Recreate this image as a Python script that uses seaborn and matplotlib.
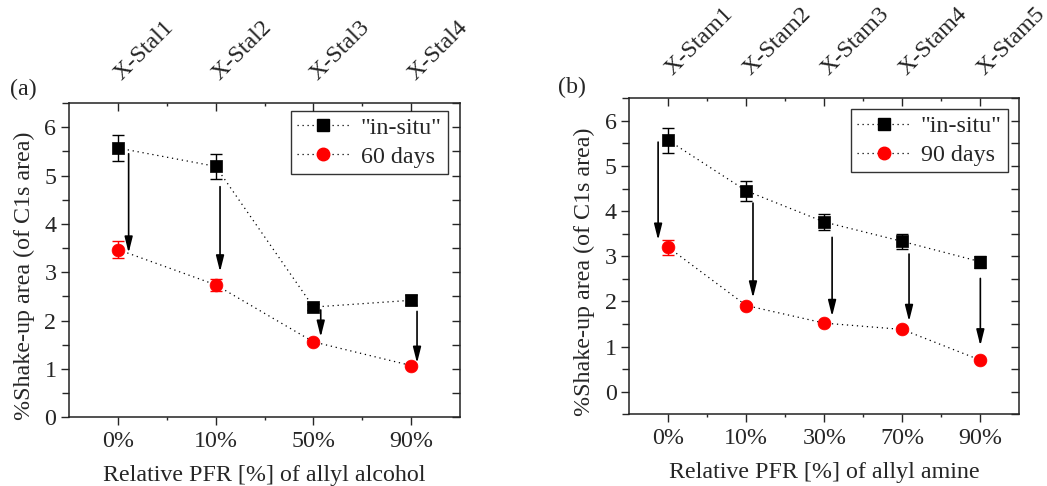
import numpy as np
import pandas as pd
import matplotlib
matplotlib.use("Agg")
import matplotlib.pyplot as plt
from matplotlib.lines import Line2D
from matplotlib.ticker import MultipleLocator, FixedLocator
import seaborn as sns

# ---------------- data ----------------
a_cats = ["0%", "10%", "50%", "90%"]
a_top = ["X-Stal1", "X-Stal2", "X-Stal3", "X-Stal4"]
a_insitu = [5.57, 5.19, 2.28, 2.42]
a_insitu_err = [0.27, 0.26, 0.07, 0.10]
a_aged = [3.47, 2.74, 1.56, 1.07]
a_aged_err = [0.17, 0.13, 0.04, 0.04]
a_arrow_dx = [0.11, 0.045, 0.075, 0.06]
a_arrow_start = [5.45, 4.77, 2.22, 2.19]
a_arrow_end = [3.40, 3.01, 1.66, 1.12]

b_cats = ["0%", "10%", "30%", "70%", "90%"]
b_top = ["X-Stam1", "X-Stam2", "X-Stam3", "X-Stam4", "X-Stam5"]
b_insitu = [5.57, 4.45, 3.76, 3.33, 2.88]
b_insitu_err = [0.28, 0.22, 0.18, 0.16, 0.13]
b_aged = [3.20, 1.91, 1.52, 1.38, 0.70]
b_aged_err = [0.17, 0.04, 0.03, 0.03, 0.03]
b_arrow_dx = [-0.13, 0.086, 0.10, 0.086, 0.0]
b_arrow_start = [5.53, 4.18, 3.42, 3.05, 2.51]
b_arrow_end = [3.36, 2.08, 1.67, 1.56, 1.02]

# ---------------- style ----------------
sns.set_style("ticks")
plt.rcParams["font.family"] = ["Liberation Serif", "DejaVu Serif"]
FS = 17.3

fig = plt.figure(figsize=(10.47, 4.86), dpi=100)
ax_a = fig.add_axes([0.0659, 0.1414, 0.3735, 0.6466])
ax_b = fig.add_axes([0.6010, 0.1475, 0.3726, 0.6502])


def panel(ax, cats, tops, ins, ins_err, aged, aged_err, adx, ast, aen,
          ylim, aged_label, xlabel, letter, leg_bbox, ylab_y):
    n = len(cats)
    pos = np.arange(n)
    df = pd.DataFrame({
        "pos": np.concatenate([pos, pos]),
        "val": np.concatenate([ins, aged]),
        "series": ['"in-situ"'] * n + [aged_label] * n,
    })
    # dotted connecting lines
    sns.lineplot(data=df, x="pos", y="val", units="series", estimator=None,
                 color="black", lw=0.9, linestyle=(0, (1, 3)), ax=ax,
                 legend=False, zorder=2)
    # error bars
    ax.errorbar(pos, ins, yerr=ins_err, fmt="none", ecolor="black",
                elinewidth=1.0, capsize=4, capthick=1.0, zorder=3)
    ax.errorbar(pos, aged, yerr=aged_err, fmt="none", ecolor="red",
                elinewidth=1.0, capsize=4, capthick=1.0, zorder=3)
    # markers
    sns.scatterplot(x=pos, y=ins, marker="s", s=70, color="black",
                    edgecolor="black", linewidth=0.5, ax=ax, zorder=4)
    sns.scatterplot(x=pos, y=aged, marker="o", s=85, color="red",
                    edgecolor="red", linewidth=0.5, ax=ax, zorder=4)
    # arrows
    for i in range(n):
        ax.annotate("", xy=(pos[i] + adx[i], aen[i]),
                    xytext=(pos[i] + adx[i], ast[i]),
                    arrowprops=dict(arrowstyle="-|>,head_length=0.8,head_width=0.2",
                                    color="black", lw=1.2, mutation_scale=12,
                                    shrinkA=0, shrinkB=0), zorder=5)

    ax.set_xlim(-0.5, n - 0.5)
    ax.set_ylim(*ylim)
    ax.xaxis.set_major_locator(FixedLocator(pos))
    ax.set_xticklabels(cats, fontsize=FS)
    ax.xaxis.set_minor_locator(FixedLocator(pos[:-1] + 0.5))
    ax.yaxis.set_major_locator(MultipleLocator(1))
    ax.yaxis.set_minor_locator(MultipleLocator(0.5))
    ax.tick_params(axis="y", which="major", direction="out", length=6,
                   width=1, labelsize=FS, pad=3)
    ax.tick_params(axis="y", which="minor", direction="out", length=5, width=1)
    ax.tick_params(axis="x", which="major", direction="out", length=6,
                   width=1, labelsize=FS, pad=4)
    ax.tick_params(axis="x", which="minor", direction="out", length=2, width=1)
    for sp in ax.spines.values():
        sp.set_visible(True)
        sp.set_linewidth(1.1)
        sp.set_color("#222222")
    ax.set_xlabel(xlabel, fontsize=FS, labelpad=9)
    ax.set_ylabel("%Shake-up area (of C1s area)", fontsize=FS)
    ax.yaxis.set_label_coords(-0.088, ylab_y)

    # top axis
    axt = ax.twiny()
    axt.set_xlim(ax.get_xlim())
    axt.xaxis.set_major_locator(FixedLocator(pos))
    axt.set_xticklabels(tops, fontsize=FS, rotation=45, ha="left",
                        va="center", rotation_mode="anchor")
    axt.xaxis.set_minor_locator(FixedLocator(pos[:-1] + 0.5))
    axt.tick_params(axis="x", which="major", direction="in", length=6,
                    width=1, pad=19)
    axt.tick_params(axis="x", which="minor", direction="in", length=2, width=1)
    for sp in axt.spines.values():
        sp.set_visible(False)

    # right axis ticks
    axr = ax.twinx()
    axr.set_ylim(ax.get_ylim())
    axr.yaxis.set_major_locator(MultipleLocator(1))
    axr.yaxis.set_minor_locator(MultipleLocator(0.5))
    axr.tick_params(axis="y", which="both", direction="in", length=6,
                    width=1, labelright=False)
    for sp in axr.spines.values():
        sp.set_visible(False)

    handles = [
        Line2D([], [], color="black", lw=0.9, linestyle=(0, (1, 3)),
               marker="s", markersize=8, markerfacecolor="black",
               markeredgecolor="black"),
        Line2D([], [], color="black", lw=0.9, linestyle=(0, (1, 3)),
               marker="o", markersize=9, markerfacecolor="red",
               markeredgecolor="red"),
    ]
    leg = axr.legend(handles, ['"in-situ"', aged_label], fontsize=FS,
                     loc="upper right", bbox_to_anchor=leg_bbox,
                     frameon=True, fancybox=False, edgecolor="black",
                     handlelength=2.2, handletextpad=0.45, borderpad=0.25,
                     labelspacing=0.3, borderaxespad=0.0)
    leg.get_frame().set_linewidth(1.0)
    fig.text(*letter[1], letter[0], fontsize=FS, ha="left", va="center")


panel(ax_a, a_cats, a_top, a_insitu, a_insitu_err, a_aged, a_aged_err,
      a_arrow_dx, a_arrow_start, a_arrow_end, (0, 6.5), "60 days",
      "Relative PFR [%] of allyl alcohol", ("(a)", (0.01, 0.815)),
      (0.968, 0.975), 0.45)
panel(ax_b, b_cats, b_top, b_insitu, b_insitu_err, b_aged, b_aged_err,
      b_arrow_dx, b_arrow_start, b_arrow_end, (-0.5, 6.5), "90 days",
      "Relative PFR [%] of allyl amine", ("(b)", (0.533, 0.82)),
      (0.97, 0.965), 0.45)

fig.savefig("out.png", dpi=100)
